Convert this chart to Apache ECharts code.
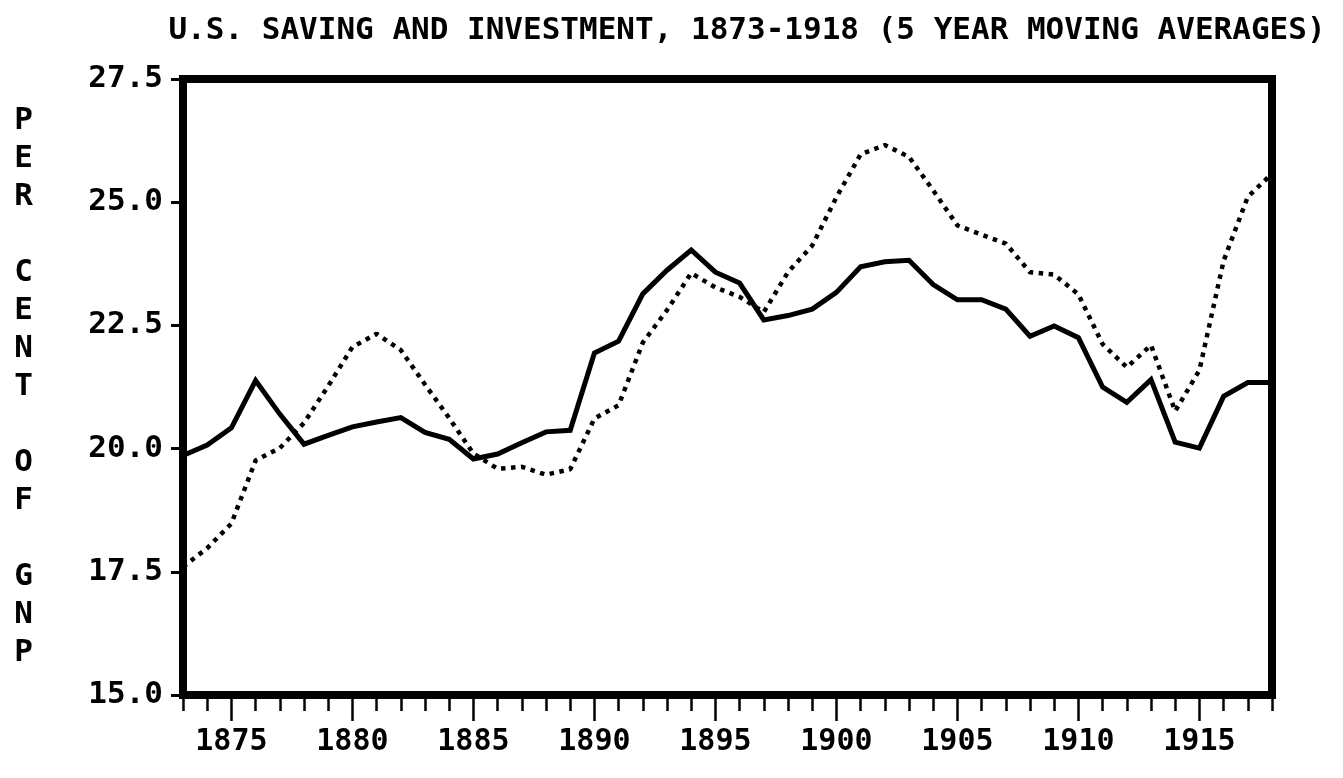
<!DOCTYPE html>
<html>
<head>
<meta charset="utf-8">
<title>U.S. Saving and Investment, 1873-1918</title>
<script src="https://cdn.jsdelivr.net/npm/echarts@6/dist/echarts.min.js"></script>
<style>
  html, body { margin: 0; padding: 0; background: #fff; }
  #chart { width: 1343px; height: 778px; }
</style>
</head>
<body>
<div id="chart"></div>
<script>
// years on the x axis
const years = [
  1873, 1874, 1875, 1876, 1877, 1878, 1879, 1880, 1881, 1882,
  1883, 1884, 1885, 1886, 1887, 1888, 1889, 1890, 1891, 1892,
  1893, 1894, 1895, 1896, 1897, 1898, 1899, 1900, 1901, 1902,
  1903, 1904, 1905, 1906, 1907, 1908, 1909, 1910, 1911, 1912,
  1913, 1914, 1915, 1916, 1917, 1918
]
// solid line, per cent of GNP
const solidLine = [
  19.86, 20.07, 20.42, 21.38, 20.70, 20.09, 20.27, 20.44, 20.54, 20.63,
  20.33, 20.19, 19.79, 19.89, 20.12, 20.34, 20.37, 21.94, 22.18, 23.14,
  23.62, 24.03, 23.58, 23.36, 22.61, 22.70, 22.83, 23.17, 23.69, 23.79,
  23.82, 23.33, 23.02, 23.02, 22.83, 22.28, 22.49, 22.25, 21.25, 20.94,
  21.40, 20.13, 20.01, 21.06, 21.34, 21.34
]
// dotted line, per cent of GNP
const dottedLine = [
  17.60, 17.98, 18.48, 19.76, 20.01, 20.52, 21.27, 22.06, 22.33, 22.00,
  21.30, 20.62, 19.90, 19.59, 19.63, 19.47, 19.58, 20.61, 20.88, 22.15,
  22.81, 23.56, 23.27, 23.08, 22.77, 23.58, 24.12, 25.10, 25.97, 26.16,
  25.92, 25.24, 24.53, 24.34, 24.16, 23.58, 23.53, 23.13, 22.12, 21.65,
  22.10, 20.76, 21.59, 23.81, 25.11, 25.58
]
// labelled years on the x axis
const labelYears = [1875, 1880, 1885, 1890, 1895, 1900, 1905, 1910, 1915]
// y axis range
const yMin = 15
const yMax = 27.5
const yStep = 2.5

const FONT = '"DejaVu Sans Mono", monospace'

const chart = echarts.init(document.getElementById('chart'))

const toPairs = vals => years.map((y, i) => [y, vals[i]])

const option = {
  animation: false,
  backgroundColor: '#fff',
  title: {
    text: 'U.S. SAVING AND INVESTMENT, 1873-1918 (5 YEAR MOVING AVERAGES)',
    left: 742,
    textAlign: 'center',
    top: 10,
    textStyle: {
      fontFamily: FONT,
      fontWeight: 'bold',
      fontSize: 31,
      color: '#000'
    }
  },
  grid: {
    left: 183,
    right: 71,
    top: 79,
    bottom: 83,
    show: true,
    borderColor: '#000',
    borderWidth: 8,
    backgroundColor: 'transparent'
  },
  xAxis: [
    {
      // labelled years with long ticks
      type: 'value',
      min: 1873,
      max: 1918,
      position: 'bottom',
      splitLine: { show: false },
      axisLine: { show: false },
      axisTick: {
        show: true,
        customValues: labelYears,
        length: 26,
        lineStyle: { color: '#000', width: 2.5 }
      },
      axisLabel: {
        customValues: labelYears,
        formatter: v => String(v),
        margin: 32,
        fontFamily: FONT,
        fontWeight: 'bold',
        fontSize: 30,
        color: '#000'
      }
    },
    {
      // one short tick per year
      type: 'value',
      min: 1873,
      max: 1918,
      position: 'bottom',
      splitLine: { show: false },
      axisLine: { show: false },
      axisTick: {
        show: true,
        customValues: years,
        length: 16,
        lineStyle: { color: '#000', width: 2.5 }
      },
      axisLabel: { show: false }
    }
  ],
  yAxis: {
    type: 'value',
    min: yMin,
    max: yMax,
    interval: yStep,
    splitLine: { show: false },
    axisLine: { show: false },
    axisTick: {
      show: true,
      length: 12,
      lineStyle: { color: '#000', width: 3 }
    },
    axisLabel: {
      margin: 20,
      formatter: v => v.toFixed(1),
      fontFamily: FONT,
      fontWeight: 'bold',
      fontSize: 31,
      color: '#000'
    },
    name: 'P\nE\nR\n\nC\nE\nN\nT\n\nO\nF\n\nG\nN\nP',
    nameLocation: 'middle',
    nameRotate: 0,
    nameGap: 150,
    nameTextStyle: {
      fontFamily: FONT,
      fontWeight: 'bold',
      fontSize: 31,
      lineHeight: 38,
      color: '#000',
      padding: [0, 0, 92, 0]
    }
  },
  series: [
    {
      name: 'solid',
      type: 'line',
      data: toPairs(solidLine),
      showSymbol: false,
      lineStyle: { color: '#000', width: 5, join: 'miter' },
      z: 3
    },
    {
      name: 'dotted',
      type: 'line',
      data: toPairs(dottedLine),
      showSymbol: false,
      lineStyle: {
        color: '#000',
        width: 4.5,
        type: [4.5, 5.5],
        cap: 'butt'
      },
      z: 2
    }
  ]
}

chart.setOption(option)
window.addEventListener('resize', () => {
  chart.resize()
})
</script>
</body>
</html>
